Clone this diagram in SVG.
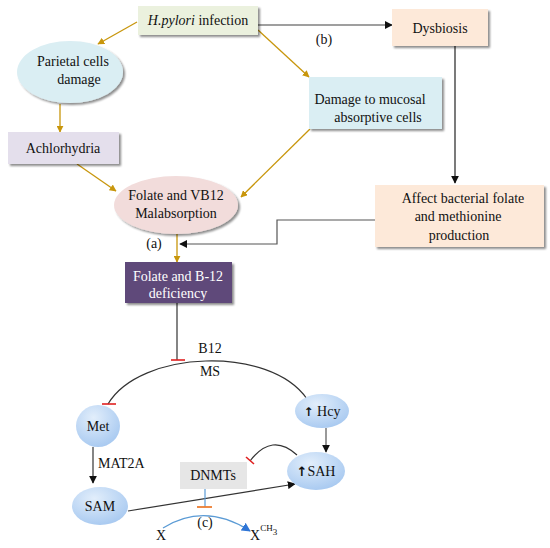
<svg xmlns="http://www.w3.org/2000/svg" width="550" height="548" viewBox="0 0 550 548">
<defs>
<style>
text{font-size:14px;fill:#111;text-anchor:middle}
.w{fill:#fff}
.gold{stroke:#c8960c;stroke-width:1.3;fill:none}
.blk{stroke:#333;stroke-width:1.2;fill:none}
.box{filter:url(#sh)}
</style>
<filter id="sh" x="-10%" y="-10%" width="130%" height="140%">
<feGaussianBlur in="SourceAlpha" stdDeviation="1.2"/>
<feOffset dx="1.5" dy="2" result="o"/>
<feComponentTransfer><feFuncA type="linear" slope="0.45"/></feComponentTransfer>
<feMerge><feMergeNode/><feMergeNode in="SourceGraphic"/></feMerge>
</filter>
<radialGradient id="bl" cx="0.4" cy="0.3" r="0.75">
<stop offset="0" stop-color="#e2eefb"/>
<stop offset="1" stop-color="#a6c8f0"/>
</radialGradient>
<marker id="ag" viewBox="0 0 10 10" refX="9" refY="5" markerWidth="7" markerHeight="7" orient="auto" markerUnits="userSpaceOnUse">
<path d="M0,0 L10,5 L0,10 z" fill="#c8960c"/>
</marker>
<marker id="ab" viewBox="0 0 10 10" refX="9" refY="5" markerWidth="8" markerHeight="8" orient="auto" markerUnits="userSpaceOnUse">
<path d="M0,0 L10,5 L0,10 z" fill="#111"/>
</marker>
<marker id="au" viewBox="0 0 10 10" refX="9" refY="5" markerWidth="9" markerHeight="9" orient="auto" markerUnits="userSpaceOnUse">
<path d="M0,0 L10,5 L0,10 z" fill="#2e75d6"/>
</marker>
</defs>
<rect width="550" height="548" fill="#fff"/>

<g id="connectors">
<path class="gold" d="M137,22 L98,44" marker-end="url(#ag)"/>
<path class="gold" d="M60,104 L60,132" marker-end="url(#ag)"/>
<path class="gold" d="M258,30 L309,77" marker-end="url(#ag)"/>
<path class="gold" d="M77,164 L116,191" marker-end="url(#ag)"/>
<path class="gold" d="M310,129 L241,197" marker-end="url(#ag)"/>
<path class="gold" d="M177,233 L177,262" marker-end="url(#ag)"/>
<path d="M258,25 L392,25" stroke="#404040" stroke-width="1.2" fill="none" marker-end="url(#ab)"/>
<path d="M455,46 L455,183" stroke="#222" stroke-width="1.2" fill="none" marker-end="url(#ab)"/>
<path d="M375,220 L277,220 L277,244 L180,244" stroke="#555" stroke-width="1.2" fill="none" marker-end="url(#ab)"/>
<path d="M177,303 L177,360" stroke="#333" stroke-width="1.2"/>
<path d="M171,360 L185,360" stroke="#e02020" stroke-width="1.6"/>
<path d="M108,404 C140,350 270,345 307,399" class="blk"/>
<path d="M102,404 L116,404" stroke="#e02020" stroke-width="1.6"/>
<path d="M93,447 L93,483" class="blk" marker-end="url(#ab)"/>
<path d="M326,428 L326,452" stroke="#555" stroke-width="1.2" fill="none" marker-end="url(#ab)"/>
<path d="M128,511 L295,484" class="blk" marker-end="url(#ab)"/>
<path d="M297,455 Q272,432 250,461" class="blk"/>
<path d="M246,457 L254,464" stroke="#e02020" stroke-width="1.6"/>
<path d="M205,489 L205,507" stroke="#5b9bd5" stroke-width="1.2"/>
<path d="M197,507 L212,507" stroke="#ed7d31" stroke-width="1.8"/>
<path d="M163,528 Q205,502 250,531" stroke="#5b9bd5" stroke-width="1.2" fill="none" marker-end="url(#au)"/>
</g>

<g font-family="Liberation Serif, serif">
<g id="hpylori"><rect class="box" x="138" y="6" width="120" height="29" fill="#ebf1de"/>
<text x="198" y="25"><tspan font-style="italic">H.pylori</tspan> infection</text></g>
<g id="parietal"><ellipse class="box" cx="70" cy="72" rx="53" ry="31" fill="#daeef3"/>
<text x="73" y="66">Parietal cells</text><text x="79" y="84">damage</text></g>
<g id="achlorhydria"><rect class="box" x="8" y="132" width="111" height="32" fill="#e4dfec"/>
<text x="63" y="153">Achlorhydria</text></g>
<g id="dysbiosis"><rect class="box" x="392" y="9" width="96" height="37" fill="#fde9d9"/>
<text x="440" y="33">Dysbiosis</text></g>
<g id="damage"><rect class="box" x="309" y="77" width="133" height="52" fill="#daeef3"/>
<text x="370" y="104">Damage to mucosal</text><text x="378" y="122">absorptive cells</text></g>
<g id="affect"><rect class="box" x="375" y="185" width="169" height="62" fill="#fde9d9"/>
<text x="463" y="203">Affect bacterial folate</text><text x="458" y="221">and methionine</text><text x="459" y="240">production</text></g>
<g id="malabsorption"><ellipse class="box" cx="176" cy="205" rx="62" ry="29" fill="#f2dcdb"/>
<text x="176" y="200">Folate and VB12</text><text x="176" y="218">Malabsorption</text></g>
<text x="154" y="248">(a)</text>
<text x="324" y="44">(b)</text>
<g id="deficiency"><rect class="box" x="125" y="262" width="107" height="41" fill="#5f497a"/>
<text class="w" x="178" y="281">Folate and B-12</text><text class="w" x="178" y="298">deficiency</text></g>
<text x="210" y="353">B12</text>
<text x="210" y="376">MS</text>
<g id="met"><ellipse cx="98" cy="426" rx="22" ry="21" fill="url(#bl)"/><text x="98" y="431">Met</text></g>
<text x="98" y="468" style="text-anchor:start">MAT2A</text>
<g id="sam"><ellipse cx="100" cy="506" rx="28" ry="19" fill="url(#bl)"/><text x="100" y="511">SAM</text></g>
<g id="hcy"><ellipse cx="322" cy="411" rx="27" ry="17" fill="url(#bl)"/>
<text x="322" y="416"><tspan font-family="DejaVu Sans" font-weight="bold" font-size="12">↑</tspan> Hcy</text></g>
<g id="sah"><ellipse cx="316" cy="471" rx="29" ry="19" fill="url(#bl)"/>
<text x="316" y="476"><tspan font-family="DejaVu Sans" font-weight="bold" font-size="13">↑</tspan>SAH</text></g>
<g id="dnmts"><rect x="180" y="462" width="67" height="27" fill="#e6e6e6"/><text x="213" y="480">DNMTs</text></g>
<text x="205" y="527">(c)</text>
<text x="161" y="540">X</text>
<text x="250" y="540" style="text-anchor:start">X<tspan font-size="9" dy="-9">CH</tspan><tspan font-size="9" dy="4">3</tspan></text>
</g>
</svg>
